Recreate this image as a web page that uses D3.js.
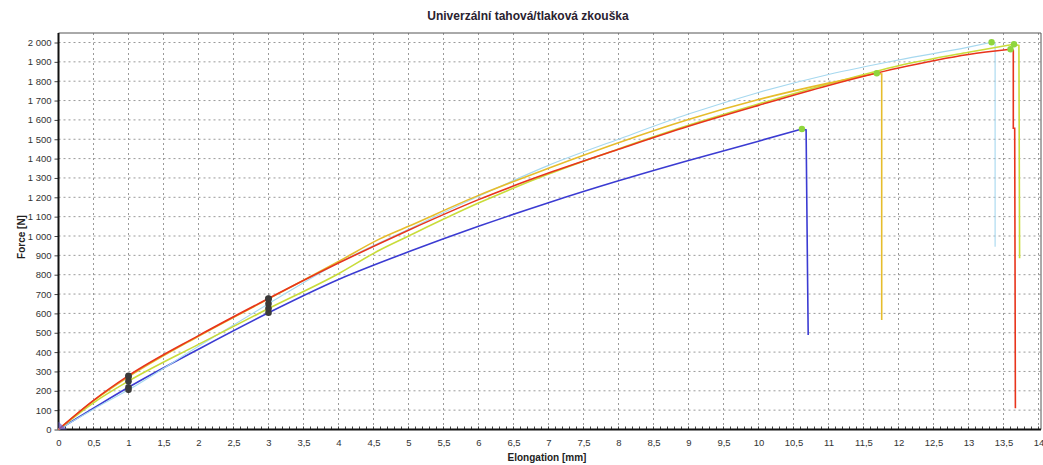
<!DOCTYPE html>
<html><head><meta charset="utf-8">
<script src="https://cdn.jsdelivr.net/npm/d3@7"></script>
<style>
html,body{margin:0;padding:0;background:#fff;}
svg{display:block;font-family:"Liberation Sans",Arial,sans-serif;}
</style></head>
<body>
<svg id="c" width="1043" height="465"></svg>
<script>
const title = "Univerzální tahová/tlaková zkouška";
const xLabel = "Elongation [mm]";
const yLabel = "Force [N]";
const xTicks = d3.range(0, 14.001, 0.5);
const yTicks = d3.range(0, 2001, 100);

// series: [elongation, force]
const seriesNames = ["red", "gold", "lime", "lightblue", "blue"];
const seriesColors = ["#e8341c", "#e6bd2c", "#c9dc3a", "#a6d8ef", "#3b3bd2"];
const redData = [[0,0],[0.5,150],[1,278],[2,485],[3,677],[4,860],[5,1030],[6,1188],[7,1325],[8,1448],[9,1567],[10,1675],[11,1778],[12,1868],[13,1938],[13.6,1965],[13.64,1960],[13.64,1557],[13.66,1557],[13.67,110]];
const goldData = [[0,0],[0.5,148],[1,272],[2,482],[3,675],[4,868],[4.59,985],[5,1050],[6,1210],[7,1350],[8,1482],[9,1602],[10,1705],[11,1790],[11.69,1841],[11.76,1838],[11.76,566]];
const limeData = [[0,0],[0.5,138],[1,250],[2,440],[3,625],[4,805],[4.59,928],[5,1000],[6,1170],[7,1320],[8,1450],[9,1572],[10,1682],[11,1785],[12,1880],[13,1950],[13.65,1991],[13.72,1985],[13.73,885]];
const lightblueData = [[0,0],[0.5,105],[1,205],[2,430],[3,650],[4,862],[5,1035],[6,1205],[7,1365],[8,1500],[9,1630],[10,1742],[11,1835],[12,1910],[13,1976],[13.33,2001],[13.38,1995],[13.38,945]];
const blueData = [[0,0],[0.5,110],[1,218],[2,415],[3,603],[4,775],[5,918],[6,1050],[7,1172],[8,1285],[9,1390],[10,1490],[10.62,1553],[10.68,1548],[10.69,1180],[10.7,820],[10.71,488]];
const allData = [redData, goldData, limeData, lightblueData, blueData];
// maximum points (green markers)
const maxX = [13.6, 11.69, 13.65, 13.33, 10.62];
const maxF = [1965, 1841, 1991, 2001, 1553];
// modulus evaluation points (dark markers)
const evalX = [1, 3];

const svg = d3.select("#c");
const x = d3.scaleLinear().domain([0, 14]).range([58.5, 1038.5]);
const y = d3.scaleLinear().domain([0, 2000]).range([429.5, 42.5]);
const xMaxPix = 1041, yTopPix = 33;

const loc = d3.formatLocale({decimal: ",", thousands: " ", grouping: [3], currency: ["", ""]});
const fy = loc.format(",d");
const fx = v => String(v).replace(".", ",");

// title
svg.append("text").attr("x", 528).attr("y", 20).attr("text-anchor", "middle")
  .attr("font-size", 12).attr("font-weight", "bold").attr("fill", "#2a2230").text(title);

// grid
const g = svg.append("g");
g.selectAll(".gx").data(xTicks.filter(v => v > 0)).join("line")
  .attr("x1", d => x(d)).attr("x2", d => x(d)).attr("y1", yTopPix).attr("y2", y(0))
  .attr("stroke", "#9a9a9a").attr("stroke-width", 1).attr("stroke-dasharray", "2,3");
g.selectAll(".gy").data(yTicks.filter(v => v > 0)).join("line")
  .attr("x1", x(0)).attr("x2", xMaxPix).attr("y1", d => y(d)).attr("y2", d => y(d))
  .attr("stroke", "#9a9a9a").attr("stroke-width", 1).attr("stroke-dasharray", "2,3");

// frame top/right
svg.append("path").attr("d", `M${x(0)},${yTopPix}H${xMaxPix}V${y(0)}`)
  .attr("fill", "none").attr("stroke", "#555").attr("stroke-width", 1);

// axes
const xAxis = d3.axisBottom(x).tickValues(xTicks).tickFormat(fx).tickSize(0).tickPadding(10);
const xa = svg.append("g").attr("transform", `translate(0,${y(0)})`).call(xAxis);
xa.select(".domain").remove();
xa.selectAll("text").attr("font-size", 9.5).attr("fill", "#333").attr("font-family", "Liberation Sans, Arial, sans-serif");
// minor ticks
svg.append("g").selectAll("line").data(d3.range(0, 14.001, 0.1)).join("line")
  .attr("x1", d => x(d)).attr("x2", d => x(d)).attr("y1", y(0) - 3).attr("y2", y(0))
  .attr("stroke", "#444").attr("stroke-width", 1);

const yAxis = d3.axisLeft(y).tickValues(yTicks).tickFormat(fy).tickSize(4).tickPadding(3);
const ya = svg.append("g").attr("transform", `translate(${x(0)},0)`).call(yAxis);
ya.select(".domain").remove();
ya.selectAll("text").attr("font-size", 9.5).attr("fill", "#333").attr("font-family", "Liberation Sans, Arial, sans-serif");
ya.selectAll("line").attr("stroke", "#444");

svg.append("line").attr("x1", x(0)).attr("x2", xMaxPix).attr("y1", y(0)).attr("y2", y(0))
  .attr("stroke", "#111").attr("stroke-width", 2);
svg.append("line").attr("x1", x(0)).attr("x2", x(0)).attr("y1", yTopPix).attr("y2", y(0))
  .attr("stroke", "#111").attr("stroke-width", 2);

// axis titles
svg.append("text").attr("x", 547).attr("y", 461).attr("text-anchor", "middle")
  .attr("font-size", 10).attr("font-weight", "bold").attr("fill", "#222").text(xLabel);
svg.append("text").attr("transform", "translate(25,237) rotate(-90)").attr("text-anchor", "middle")
  .attr("font-size", 10).attr("font-weight", "bold").attr("fill", "#222").text(yLabel);

// curves
const line = d3.line().x(d => x(d[0])).y(d => y(d[1])).curve(d3.curveMonotoneX);
const lineLin = d3.line().x(d => x(d[0])).y(d => y(d[1]));
const order = [4, 3, 2, 1, 0];
order.forEach(i => {
  const data = allData[i];
  const peakIdx = data.findIndex(d => d[0] === maxX[i]);
  const rising = data.slice(0, peakIdx + 1);
  const falling = data.slice(peakIdx);
  const w = seriesNames[i] === "lightblue" ? 1.1 : 1.6;
  svg.append("path").attr("d", line(rising)).attr("fill", "none")
    .attr("stroke", seriesColors[i]).attr("stroke-width", w);
  svg.append("path").attr("d", lineLin(falling)).attr("fill", "none")
    .attr("stroke", seriesColors[i]).attr("stroke-width", w);
});

// start blob near origin
svg.append("path").attr("d", lineLin([[0,0],[0,40],[0.12,0]])).attr("fill", "#6a5acd").attr("opacity", 0.7);

// evaluation markers
order.forEach(i => {
  const data = allData[i];
  const interp = d3.scaleLinear().domain(data.slice(0, 8).map(d => d[0])).range(data.slice(0, 8).map(d => d[1]));
  evalX.forEach(ex => {
    svg.append("circle").attr("cx", x(ex)).attr("cy", y(interp(ex))).attr("r", 3.3).attr("fill", "#3a3a3a");
  });
});

// max markers
maxX.forEach((mx, i) => {
  svg.append("circle").attr("cx", x(mx)).attr("cy", y(maxF[i])).attr("r", 3.2).attr("fill", "#8fd63e");
});
</script>
</body></html>
